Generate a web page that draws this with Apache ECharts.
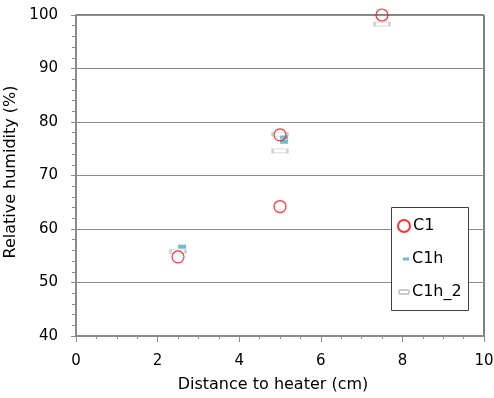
<!DOCTYPE html>
<html>
<head>
<meta charset="utf-8">
<script src="https://cdn.jsdelivr.net/npm/echarts@6/dist/echarts.min.js"></script>
<style>
  html, body { margin: 0; padding: 0; background: #fff; }
  #chart { width: 494px; height: 398px; }
</style>
</head>
<body>
<div id="chart"></div>
<script>
// data
const c1 = [[2.5, 54.8], [5.0, 77.6], [5.0, 64.2], [7.5, 100.0]];
const c1h = [[2.6, 56.7], [5.1, 77.1], [5.1, 76.3]];
const c1h2 = [[2.5, 55.8], [5.0, 77.7], [5.0, 74.6], [7.5, 98.3]];
const seriesNames = ['C1', 'C1h', 'C1h_2'];

const font = 'DejaVu Sans';
const axisGray = '#8c8c8c';

const chart = echarts.init(document.getElementById('chart'));

const legendItem = (name, left, top, icon, w, h) => ({
  data: [name],
  left: left,
  top: top,
  orient: 'vertical',
  icon: icon,
  itemWidth: w,
  itemHeight: h,
  itemGap: 0,
  padding: 0,
  z: 10,
  textStyle: { fontFamily: font, fontSize: 16, color: '#000', padding: [0, 0, 0, -2] },
  selectedMode: false
});

chart.setOption({
  animation: false,
  grid: {
    left: 76, right: 10, top: 15, bottom: 62,
    containLabel: false, outerBoundsMode: 'none',
    show: true, borderColor: '#000', borderWidth: 1
  },
  graphic: [{
    type: 'rect',
    shape: { x: 391.5, y: 207.5, width: 77, height: 103 },
    style: { fill: '#fff', stroke: '#404040', lineWidth: 1 },
    z: 5
  }],
  legend: [
    legendItem('C1', 397, 218, 'circle', 12, 12),
    legendItem('C1h', 403, 251, 'rect', 6, 3),
    legendItem('C1h_2', 398, 284, 'roundRect', 10, 4)
  ],
  xAxis: {
    type: 'value', min: 0, max: 10, interval: 2,
    name: 'Distance to heater (cm)', nameLocation: 'middle', nameGap: 41,
    nameTextStyle: { fontFamily: font, fontSize: 16, color: '#000', padding: [0, 14, 0, 0] },
    axisLine: { show: true, lineStyle: { color: axisGray, width: 2 } },
    axisTick: { show: true, length: 6, lineStyle: { color: axisGray, width: 1 } },
    minorTick: { show: true, splitNumber: 4, length: 3, lineStyle: { color: axisGray } },
    axisLabel: { fontFamily: font, fontSize: 15, color: '#000', margin: 18 },
    splitLine: { show: false }
  },
  yAxis: {
    type: 'value', min: 40, max: 100, interval: 10,
    name: 'Relative humidity (%)', nameLocation: 'middle', nameGap: 49,
    nameTextStyle: { fontFamily: font, fontSize: 16, color: '#000', padding: [0, 0, 0, 7] },
    axisLine: { show: true, lineStyle: { color: axisGray, width: 2 } },
    axisTick: { show: true, length: 5, lineStyle: { color: axisGray, width: 1 } },
    minorTick: { show: true, splitNumber: 5, length: 4, lineStyle: { color: axisGray } },
    axisLabel: { fontFamily: font, fontSize: 15, color: '#000', margin: 18 },
    splitLine: { show: true, lineStyle: { color: '#8c8c8c', width: 1 } }
  },
  series: [
    {
      name: seriesNames[0], type: 'scatter', data: c1, symbol: 'circle', symbolSize: 12, z: 4,
      itemStyle: { color: 'rgba(255,255,255,0)', borderColor: '#ff0000', borderWidth: 1.2 }
    },
    {
      name: seriesNames[1], type: 'scatter', data: c1h, symbol: 'rect', symbolSize: [8, 4], z: 3,
      itemStyle: { color: '#4bacc6' }
    },
    {
      name: seriesNames[2], type: 'scatter', data: c1h2, symbol: 'rect', symbolSize: [15, 4], z: 2,
      itemStyle: { color: '#fff', borderColor: '#bfbfbf', borderWidth: 1.2 }
    }
  ]
});
</script>
</body>
</html>
